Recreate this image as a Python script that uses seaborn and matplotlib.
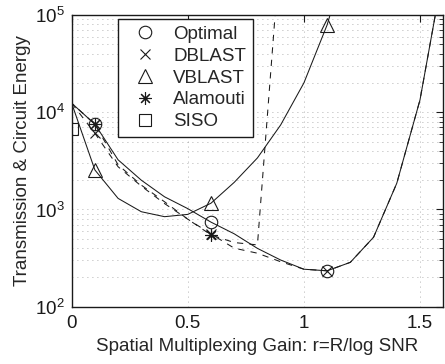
import numpy as np
import pandas as pd
import matplotlib
matplotlib.use("Agg")
import matplotlib.pyplot as plt
from matplotlib.lines import Line2D
import seaborn as sns

# ---- data ----
r_opt = [0.0, 0.1, 0.2, 0.3, 0.4, 0.5, 0.6, 0.7, 0.8, 0.9, 1.0, 1.1, 1.2, 1.3, 1.4, 1.5, 1.6]
e_opt = [12400, 7530, 3240, 2000, 1350, 1020, 741, 562, 398, 302, 243, 234, 286, 518, 1860, 13400, 282000]

r_dblast = [0.0, 0.1, 0.2, 0.3, 0.4, 0.5, 0.6, 0.7, 0.8, 0.9, 1.0, 1.1, 1.2, 1.3, 1.4, 1.5, 1.6]
e_dblast = [12400, 6080, 2750, 1740, 1150, 795, 560, 400, 355, 290, 243, 234, 286, 518, 1860, 13400, 282000]

r_vblast = [0.0, 0.1, 0.2, 0.3, 0.4, 0.5, 0.6, 0.7, 0.8, 0.9, 1.0, 1.1, 1.2]
e_vblast = [12400, 2550, 1300, 948, 843, 890, 1160, 1900, 3390, 7400, 20000, 79000, 500000]

r_alam = [0.0, 0.1, 0.2, 0.3, 0.4, 0.5, 0.6, 0.7, 0.8, 0.9]
e_alam = [12400, 7530, 2880, 1780, 1200, 795, 547, 457, 432, 550000]

r_siso = [0.0]
e_siso = [6680]

legend_labels = ["Optimal", "DBLAST", "VBLAST", "Alamouti", "SISO"]
x_ticks = [0, 0.5, 1, 1.5]
x_ticklabels = ["0", "0.5", "1", "1.5"]

sns.set_theme(style="white")
plt.rcParams['font.family'] = ['Liberation Sans', 'DejaVu Sans']
plt.rcParams['mathtext.fontset'] = 'custom'
plt.rcParams['mathtext.rm'] = 'Liberation Sans'
plt.rcParams['mathtext.it'] = 'Liberation Sans'

FS = 13.5
fig = plt.figure(figsize=(4.45, 3.64), dpi=100)
ax = fig.add_axes([0.161, 0.1574, 0.835, 0.8014])

ast = (8, 2, 0)
common = dict(color='k', linewidth=0.75, markerfacecolor='none', markeredgecolor='k',
              markeredgewidth=0.8, legend=False, ax=ax, estimator=None, sort=False)

sns.lineplot(x=r_opt, y=e_opt, linestyle='-', marker='o', markersize=9, markevery=[1, 6, 11], **common)
sns.lineplot(x=r_dblast, y=e_dblast, linestyle=(0, (6, 6)), marker='x', markersize=7, markevery=[1, 6, 11], **common)
sns.lineplot(x=r_vblast, y=e_vblast, linestyle='-', marker='^', markersize=10, markevery=[1, 6, 11], **common)
sns.lineplot(x=r_alam, y=e_alam, linestyle=(3, (6, 6)), marker=ast, markersize=9, markevery=[1, 6], **common)
sns.lineplot(x=r_siso, y=e_siso, linestyle='none', marker='s', markersize=8, **common)

ax.set_yscale('log')
ax.set_xlim(0, 1.6)
ax.set_ylim(1e2, 1e5)
ax.set_xticks(x_ticks)
ax.set_xticklabels(x_ticklabels)
ax.set_yticks([1e2, 1e3, 1e4, 1e5])
ax.set_yticklabels([r'$10^2$', r'$10^3$', r'$10^4$', r'$10^5$'])

gkw = dict(color='k', linestyle=(0, (1, 5)), linewidth=0.6, alpha=0.45)
ax.grid(True, which='major', axis='both', **gkw)
ax.grid(True, which='minor', axis='y', **gkw)

ax.tick_params(which='both', direction='in', top=True, right=True, colors='k', labelsize=FS)
ax.tick_params(which='major', length=5, width=0.8, pad=6)
ax.tick_params(which='minor', length=3, width=0.6)
ax.tick_params(axis='y', which='major', pad=5)
for s in ax.spines.values():
    s.set_color('k')
    s.set_linewidth(1.0)

ax.set_xlabel("Spatial Multiplexing Gain: r=R/log SNR", fontsize=FS, labelpad=4)
ax.set_ylabel("Transmission & Circuit Energy", fontsize=FS, labelpad=3)

handles = [
    Line2D([], [], linestyle='none', marker='o', markersize=9, markerfacecolor='none', markeredgecolor='k', markeredgewidth=0.8),
    Line2D([], [], linestyle='none', marker='x', markersize=7, markeredgecolor='k', markeredgewidth=0.8),
    Line2D([], [], linestyle='none', marker='^', markersize=10, markerfacecolor='none', markeredgecolor='k', markeredgewidth=0.8),
    Line2D([], [], linestyle='none', marker=ast, markersize=9, markeredgecolor='k', markeredgewidth=0.8),
    Line2D([], [], linestyle='none', marker='s', markersize=8, markerfacecolor='none', markeredgecolor='k', markeredgewidth=0.8),
]
leg = ax.legend(handles, legend_labels, loc='upper left', bbox_to_anchor=(0.125, 0.985),
                borderaxespad=0, fontsize=FS, frameon=True, fancybox=False,
                handletextpad=0.4, labelspacing=0.25, borderpad=0.35, handlelength=2.2)
leg.get_frame().set_edgecolor('k')
leg.get_frame().set_linewidth(1.0)
leg.get_frame().set_alpha(1)

fig.savefig("out.png", dpi=100)
